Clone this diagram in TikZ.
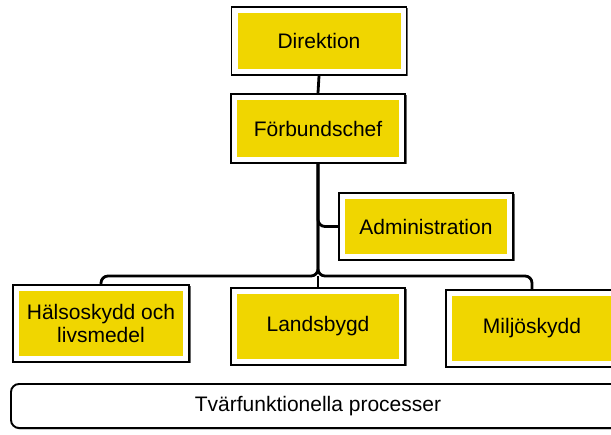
\documentclass[tikz,border=0pt]{standalone}
\usepackage{fontspec}
\setmainfont{Liberation Sans}
\usetikzlibrary{shadows}
\definecolor{orgyellow}{RGB}{240,214,0}

\begin{document}
\begin{tikzpicture}[x=1pt,y=-1pt,
    unit/.style={draw=black, line width=1.9pt, fill=white, inner sep=0pt, align=center,
        font=\fontsize{21}{23}\selectfont,
        drop shadow={shadow xshift=1.5pt, shadow yshift=-1.5pt, fill=black!60, opacity=1},
        path picture={\fill[orgyellow] ([shift={(6,-6)}]path picture bounding box.south west)
            rectangle ([shift={(-6,6)}]path picture bounding box.north east);}},
    proc/.style={draw=black, line width=1.9pt, fill=white, rounded corners=8pt,
        font=\fontsize{21}{23}\selectfont,
        drop shadow={shadow xshift=1.5pt, shadow yshift=-1.5pt, fill=black!60, opacity=1}},
    link/.style={draw=black, line width=2.8pt, rounded corners=7pt}]

    \useasboundingbox (0,0) rectangle (611,435);
    \clip (0,0) rectangle (611,435);

    \node[unit, minimum width=175, minimum height=68] (dir) at (319,41) {Direktion};
    \node[unit, minimum width=174, minimum height=69] (fb) at (318,128.5) {Förbundschef};

    \node[unit, minimum width=174, minimum height=67] (adm) at (426,226.5) {Administration};

    \node[unit, minimum width=176, minimum height=77] (hal) at (101,323.5) {Hälsoskydd och\\livsmedel};
    \node[unit, minimum width=174, minimum height=77] (land) at (318,326.5) {Landsbygd};
    \node[unit, minimum width=172, minimum height=77] (milj) at (532,328.5) {Miljöskydd};

    \node[proc, minimum width=614, minimum height=44] (tvf) at (318,406) {Tvärfunktionella processer};

    \coordinate (bus) at (fb.south |- 0,276);

    \draw[link] (dir.south) -- (fb.north);
    \draw[link] (fb.south) |- (adm.west);
    \draw[link] (fb.south) -- (bus) -| (hal.north);
    \draw[link] (fb.south) -- (bus) -| (milj.north);
    \draw[link] (bus) -- (land.north);

\end{tikzpicture}
\end{document}
